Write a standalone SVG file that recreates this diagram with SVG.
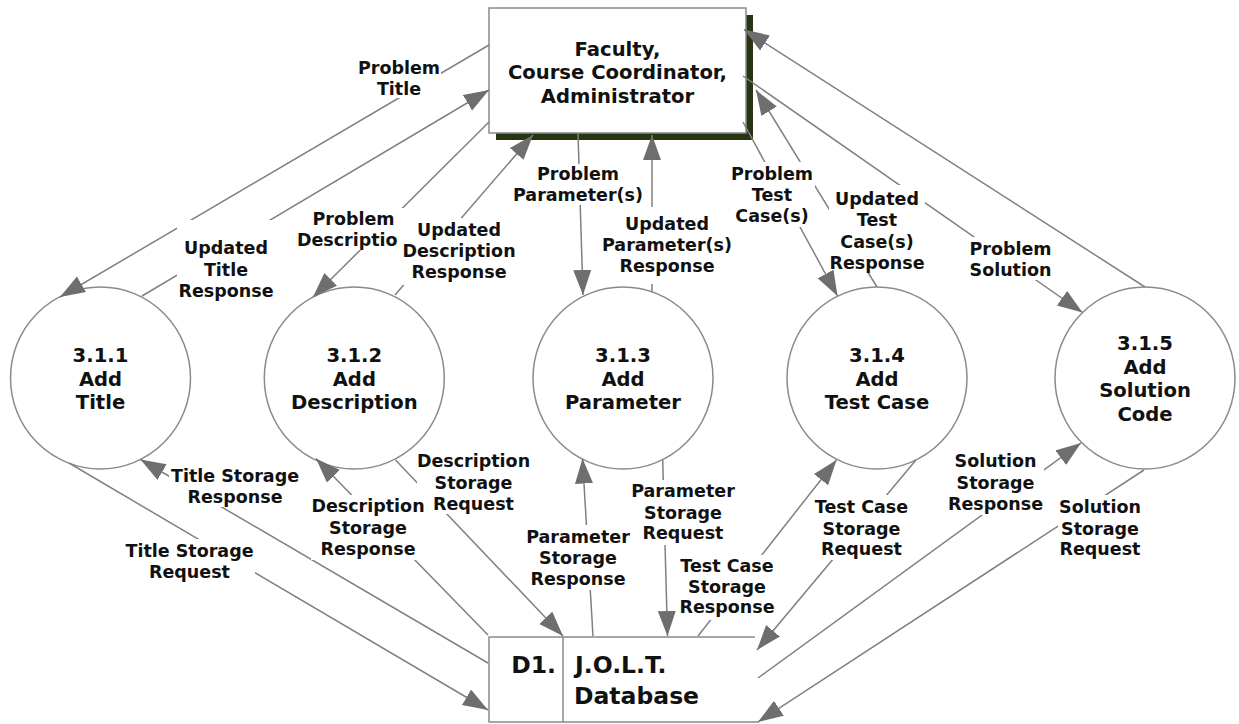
<svg xmlns="http://www.w3.org/2000/svg" width="1239" height="724" viewBox="0 0 1239 724">
<defs>
<marker id="ah" markerUnits="userSpaceOnUse" markerWidth="26" markerHeight="20" refX="25" refY="9" orient="auto" viewBox="0 0 26 20"><path d="M0,0 L25,9 L0,18 z" fill="#6e6e6e"/></marker>
<style>
.ln{stroke:#808080;stroke-width:1.5;fill:none}
.hd{stroke:none;fill:none;marker-end:url(#ah)}
.bg{fill:#fff;stroke:none}
.lb{font-family:'DejaVu Sans',Verdana,sans-serif;font-weight:bold;font-size:17.5px;text-anchor:middle;fill:#111}
.nt{font-family:'DejaVu Sans',Verdana,sans-serif;font-weight:bold;font-size:19.6px;text-anchor:middle;fill:#111}
.db{font-family:'DejaVu Sans',Verdana,sans-serif;font-weight:bold;font-size:23.5px;fill:#111}
.pr{fill:#fff;stroke:#8a8a8a;stroke-width:1.5}
.ds{stroke:#8a8a8a;stroke-width:1.5;fill:none}
</style>
</defs>
<rect width="1239" height="724" fill="#fff"/>

<g id="ext-faculty">
<rect x="496" y="15" width="257" height="125" fill="#283512"/>
<rect x="489" y="8" width="257" height="125" fill="#fff" stroke="#8a8a8a" stroke-width="1.5"/>
<text class="nt" x="617.5" y="55.5">Faculty,</text>
<text class="nt" x="617.5" y="79">Course Coordinator,</text>
<text class="nt" x="617.5" y="102.5">Administrator</text>
</g>

<g id="p311">
<ellipse class="pr" cx="100.5" cy="378" rx="90" ry="91"/>
<text class="nt" x="100.5" y="362">3.1.1</text>
<text class="nt" x="100.5" y="385.5">Add</text>
<text class="nt" x="100.5" y="409">Title</text>
</g>
<g id="p312">
<ellipse class="pr" cx="354.3" cy="378" rx="90" ry="91"/>
<text class="nt" x="354.3" y="362">3.1.2</text>
<text class="nt" x="354.3" y="385.5">Add</text>
<text class="nt" x="354.3" y="409">Description</text>
</g>
<g id="p313">
<ellipse class="pr" cx="623" cy="378" rx="90" ry="91"/>
<text class="nt" x="623" y="362">3.1.3</text>
<text class="nt" x="623" y="385.5">Add</text>
<text class="nt" x="623" y="409">Parameter</text>
</g>
<g id="p314">
<ellipse class="pr" cx="877" cy="378" rx="90" ry="91"/>
<text class="nt" x="877" y="362">3.1.4</text>
<text class="nt" x="877" y="385.5">Add</text>
<text class="nt" x="877" y="409">Test Case</text>
</g>
<g id="p315">
<ellipse class="pr" cx="1145" cy="378" rx="90" ry="91"/>
<text class="nt" x="1145" y="350">3.1.5</text>
<text class="nt" x="1145" y="373.5">Add</text>
<text class="nt" x="1145" y="397">Solution</text>
<text class="nt" x="1145" y="420.5">Code</text>
</g>

<g id="d1-database">
<path class="ds" d="M755,637 L489,637 L489,722 L758,722 M563,637 L563,722"/>
<text class="db" x="556" y="673" text-anchor="end">D1.</text>
<text class="db" x="575" y="673">J.O.L.T.</text>
<text class="db" x="574" y="704">Database</text>
</g>

<g id="connectors">
<g id="lines">
<path class="ln" d="M489,45 L60,297"/>
<path class="ln" d="M142,296 L489,90"/>
<path class="ln" d="M489,122 L313,297"/>
<path class="ln" d="M395,295 L533,135"/>
<path class="ln" d="M578,133 L583,295"/>
<path class="ln" d="M652,292 L652,135"/>
<path class="ln" d="M743,122 L837.5,296"/>
<path class="ln" d="M877,287 L756,90"/>
<path class="ln" d="M743,76 L1082.5,312.5"/>
<path class="ln" d="M1145,287 L744,29.5"/>
<path class="ln" d="M69,463 L488,710"/>
<path class="ln" d="M488,663 L140.5,459.5"/>
<path class="ln" d="M488,635 L316,458.5"/>
<path class="ln" d="M395.5,460 L563,636"/>
<path class="ln" d="M593,636 L582.5,458.5"/>
<path class="ln" d="M662.7,460 L667.5,636"/>
<path class="ln" d="M698,636 L836.5,460"/>
<path class="ln" d="M916,460 L757,650"/>
<path class="ln" d="M758,678 L1081,443"/>
<path class="ln" d="M1144,470 L758,722"/>
</g>
<g id="labels">
<rect class="bg" x="355" y="55" width="86" height="43"/>
<text class="lb" x="399" y="74">Problem</text><text class="lb" x="399" y="95">Title</text>

<rect class="bg" x="177" y="220" width="99" height="82"/>
<text class="lb" x="226" y="254">Updated</text><text class="lb" x="226" y="275.5">Title</text><text class="lb" x="226" y="297">Response</text>

<rect class="bg" x="296" y="208" width="115" height="42"/>
<text class="lb" x="353.5" y="225">Problem</text><text class="lb" x="353.5" y="246">Description</text>

<rect class="bg" x="399" y="218" width="120" height="67"/>
<text class="lb" x="459" y="236">Updated</text><text class="lb" x="459" y="257">Description</text><text class="lb" x="459" y="278">Response</text>

<rect class="bg" x="511" y="164" width="135" height="41"/>
<text class="lb" x="578" y="180">Problem</text><text class="lb" x="578" y="201">Parameter(s)</text>

<rect class="bg" x="598" y="207" width="136" height="77"/>
<text class="lb" x="667" y="230">Updated</text><text class="lb" x="667" y="251">Parameter(s)</text><text class="lb" x="667" y="272">Response</text>

<rect class="bg" x="729" y="162" width="86" height="65"/>
<text class="lb" x="772" y="180">Problem</text><text class="lb" x="772" y="201">Test</text><text class="lb" x="772" y="222">Case(s)</text>

<rect class="bg" x="829" y="185" width="96" height="88"/>
<text class="lb" x="877" y="205">Updated</text><text class="lb" x="877" y="226">Test</text><text class="lb" x="877" y="247.5">Case(s)</text><text class="lb" x="877" y="268.5">Response</text>

<rect class="bg" x="966" y="237" width="89" height="43"/>
<text class="lb" x="1010.5" y="255">Problem</text><text class="lb" x="1010.5" y="276">Solution</text>

<rect class="bg" x="124" y="539" width="131" height="46"/>
<text class="lb" x="189.5" y="557">Title Storage</text><text class="lb" x="189.5" y="578">Request</text>

<rect class="bg" x="169" y="465" width="131" height="42"/>
<text class="lb" x="235" y="482">Title Storage</text><text class="lb" x="235" y="502.5">Response</text>

<rect class="bg" x="417" y="448" width="115" height="66"/>
<text class="lb" x="473.5" y="467">Description</text><text class="lb" x="473.5" y="488.5">Storage</text><text class="lb" x="473.5" y="510">Request</text>

<rect class="bg" x="311" y="495" width="116" height="65"/>
<text class="lb" x="368" y="512">Description</text><text class="lb" x="368" y="533.5">Storage</text><text class="lb" x="368" y="555">Response</text>

<rect class="bg" x="524" y="525" width="106" height="65"/>
<text class="lb" x="578" y="543">Parameter</text><text class="lb" x="578" y="564">Storage</text><text class="lb" x="578" y="585">Response</text>

<rect class="bg" x="631" y="480" width="106" height="65"/>
<text class="lb" x="683" y="497">Parameter</text><text class="lb" x="683" y="518.5">Storage</text><text class="lb" x="683" y="539">Request</text>

<rect class="bg" x="677" y="555" width="100" height="65"/>
<text class="lb" x="727" y="572">Test Case</text><text class="lb" x="727" y="593">Storage</text><text class="lb" x="727" y="613">Response</text>

<rect class="bg" x="812" y="495" width="99" height="65"/>
<text class="lb" x="861.5" y="513">Test Case</text><text class="lb" x="861.5" y="534.5">Storage</text><text class="lb" x="861.5" y="555">Request</text>

<rect class="bg" x="946" y="450" width="98" height="65"/>
<text class="lb" x="995.5" y="467">Solution</text><text class="lb" x="995.5" y="488.5">Storage</text><text class="lb" x="995.5" y="510">Response</text>

<rect class="bg" x="1058" y="495" width="85" height="67"/>
<text class="lb" x="1100" y="513">Solution</text><text class="lb" x="1100" y="534.5">Storage</text><text class="lb" x="1100" y="555">Request</text>
</g>
<g id="arrowheads">
<path class="hd" d="M489,45 L60,297"/>
<path class="hd" d="M142,296 L489,90"/>
<path class="hd" d="M489,122 L313,297"/>
<path class="hd" d="M395,295 L533,135"/>
<path class="hd" d="M578,133 L583,295"/>
<path class="hd" d="M652,292 L652,135"/>
<path class="hd" d="M743,122 L837.5,296"/>
<path class="hd" d="M877,287 L756,90"/>
<path class="hd" d="M743,76 L1082.5,312.5"/>
<path class="hd" d="M1145,287 L744,29.5"/>
<path class="hd" d="M69,463 L488,710"/>
<path class="hd" d="M488,663 L140.5,459.5"/>
<path class="hd" d="M488,635 L316,458.5"/>
<path class="hd" d="M395.5,460 L563,636"/>
<path class="hd" d="M593,636 L582.5,458.5"/>
<path class="hd" d="M662.7,460 L667.5,636"/>
<path class="hd" d="M698,636 L836.5,460"/>
<path class="hd" d="M916,460 L757,650"/>
<path class="hd" d="M758,678 L1081,443"/>
<path class="hd" d="M1144,470 L758,722"/>
</g>
</g>
</svg>
